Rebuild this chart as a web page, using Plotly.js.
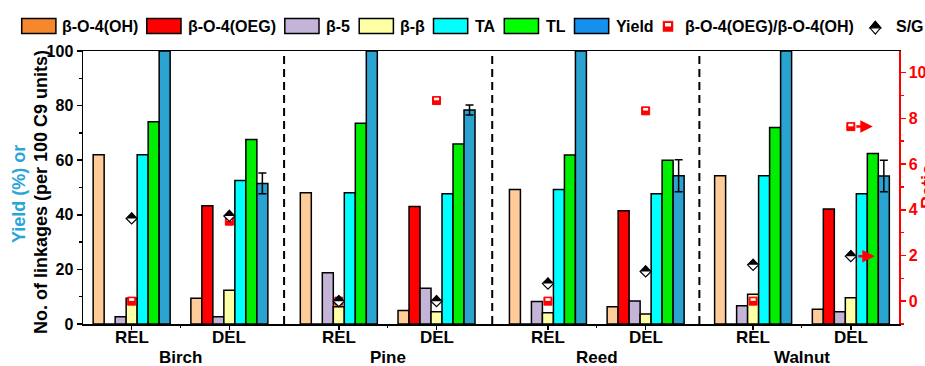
<!DOCTYPE html>
<html><head><meta charset="utf-8">
<script src="https://cdn.plot.ly/plotly-3.0.1.min.js"></script>
<style>html,body{margin:0;padding:0;background:#fff}#chart{width:925px;height:366px}</style>
</head><body><div id="chart"></div>
<script>
// ---------------- data ----------------
const species = ['Birch', 'Pine', 'Reed', 'Walnut'];
const tickLabels = ['REL', 'DEL', 'REL', 'DEL', 'REL', 'DEL', 'REL', 'DEL'];
const xPos = [1, 2, 3.12, 4.12, 5.26, 6.26, 7.36, 8.36];   // category positions (species groups separated by a small gap)
const seriesNames = ['β-O-4(OH)', 'β-O-4(OEG)', 'β-5', 'β-β', 'TA', 'TL', 'Yield'];
const bo4OH  = [62.0, 9.4, 48.1, 4.9, 49.3, 6.3, 54.3, 5.4];
const bo4OEG = [0, 43.3, 0, 43.0, 0, 41.5, 0, 42.1];
const b5     = [2.7, 2.7, 18.8, 13.1, 8.2, 8.4, 6.7, 4.5];
const bb     = [9.4, 12.4, 6.3, 4.5, 4.1, 3.7, 10.9, 9.6];
const TA     = [62.0, 52.6, 48.1, 47.7, 49.3, 47.7, 54.3, 47.7];
const TL     = [74.1, 67.6, 73.5, 65.9, 61.9, 60.0, 72.0, 62.5];
const yieldV = [100, 51.5, 100, 78.4, 100, 54.3, 100, 54.2];
const yieldErr = [null, 3.8, null, 1.8, null, 5.9, null, 5.8];
const ratioName = 'β-O-4(OEG)/β-O-4(OH)';
const ratio  = [0, 3.5, 0, 8.78, 0, 8.33, 0, 7.64];
const sgName = 'S/G';
const sg     = [3.62, 3.73, 0, 0, 0.77, 1.3, 1.59, 1.97];

// ---------------- style ----------------
const FONT = 'Liberation Sans, Arial, sans-serif';
const barColors    = ['#ffcc99', '#ff0000', '#c4b4d8', '#ffffa6', '#00ffff', '#00ee00', '#2aa3d0'];
const legendColors = ['#f5872c', '#ff0000', '#c4b4d8', '#ffffa6', '#00ffff', '#00ff00', '#1590ee'];
const seriesValues = [bo4OH, bo4OEG, b5, bb, TA, TL, yieldV];

// plot-area geometry in pixels (for paper-coordinate helpers)
const L = 83, R = 26, T = 51, B = 42, W = 925, H = 366;
const PW = W - L - R, PH = H - T - B;
const X_RANGE = [0.502, 8.853], Y2_RANGE = [-1, 10.95];
const pxX = p => (p - L) / PW;
const pxY = p => (H - B - p) / PH;

const traces = [];
seriesValues.forEach((vals, i) => {
  const t = {
    type: 'bar', name: seriesNames[i], x: xPos, y: vals, yaxis: 'y', xaxis: 'x',
    marker: {color: barColors[i], line: {color: '#000', width: 1.5}},
    showlegend: false, hoverinfo: 'skip'
  };
  if (seriesNames[i] === 'Yield') {
    t.error_y = {type: 'data', array: yieldErr.map(v => v == null ? NaN : v), visible: true,
                 color: '#000', thickness: 1.5, width: 4};
  }
  traces.push(t);
});

// half-filled square (ratio) and half-filled diamond (S/G) built from two marker layers
traces.push(
  {type: 'scatter', mode: 'markers', name: ratioName, x: xPos, y: ratio, xaxis: 'x', yaxis: 'y2', cliponaxis: false,
   hoverinfo: 'skip', showlegend: false,
   marker: {symbol: 'square', size: 8, color: '#ff0000', line: {color: '#ff0000', width: 1}}},
  {type: 'scatter', mode: 'markers', x: xPos, y: ratio, xaxis: 'x', yaxis: 'y2', cliponaxis: false,
   hoverinfo: 'skip', showlegend: false,
   marker: {symbol: 'line-ew', size: 3.6, angle: 180, standoff: 1.6, color: '#fff',
            line: {color: '#ffffff', width: 2.6}}},
  {type: 'scatter', mode: 'markers', name: sgName, x: xPos, y: sg, xaxis: 'x', yaxis: 'y2', cliponaxis: false,
   hoverinfo: 'skip', showlegend: false,
   marker: {symbol: 'diamond', size: 8.5, color: '#ffffff', line: {color: '#000', width: 1.2}}},
  {type: 'scatter', mode: 'markers', x: xPos, y: sg, xaxis: 'x', yaxis: 'y2', cliponaxis: false,
   hoverinfo: 'skip', showlegend: false,
   marker: {symbol: 'triangle-down', size: 8.6, angle: 180, standoff: 2.15, color: '#000',
            line: {color: '#000', width: 0}}}
);

// ---------------- shapes & annotations ----------------
const shapes = [];
const annotations = [];
// dashed separators between species
for (let s = 0; s < species.length - 1; s++) {
  const xm = (xPos[2 * s + 1] + xPos[2 * s + 2]) / 2;
  shapes.push({type: 'line', xref: 'x', yref: 'paper', x0: xm, x1: xm, y0: 0, y1: 1,
               line: {color: '#000', width: 2, dash: '8px,5px'}});
}
// REL / DEL labels
tickLabels.forEach((lb, i) => {
  annotations.push({xref: 'x', yref: 'paper', x: xPos[i], y: pxY(337.7), text: lb, showarrow: false,
    xanchor: 'center', yanchor: 'middle', font: {family: FONT, size: 17, color: '#000', weight: 'bold'}});
});
// species labels
species.forEach((sp, s) => {
  annotations.push({xref: 'x', yref: 'paper', x: (xPos[2 * s] + xPos[2 * s + 1]) / 2, y: pxY(357.5),
    text: sp, showarrow: false, xanchor: 'center', yanchor: 'middle',
    font: {family: FONT, size: 17, color: '#000', weight: 'bold'}});
});
// custom legend: bar swatches
const swatchX = [[21.7, 55.9], [146.8, 181], [284.8, 319], [359.2, 393.4], [433.5, 467.7], [504.3, 538.5], [574.5, 608.7]];
const textX = [63, 189.3, 327.3, 401, 476, 546.8, 617, 686, 897];
seriesNames.forEach((nm, i) => {
  shapes.push({type: 'rect', xref: 'paper', yref: 'paper', x0: pxX(swatchX[i][0]), x1: pxX(swatchX[i][1]),
    y0: pxY(33.5), y1: pxY(18.5), fillcolor: legendColors[i], line: {color: '#000', width: 1.5}});
});
// legend glyph: half-filled red square
shapes.push({type: 'rect', xref: 'paper', yref: 'paper', x0: pxX(663), x1: pxX(673), y0: pxY(31.5), y1: pxY(21.2),
  fillcolor: '#ff0000', line: {color: '#ff0000', width: 0.5}});
shapes.push({type: 'rect', xref: 'paper', yref: 'paper', x0: pxX(665), x1: pxX(671), y0: pxY(26.5), y1: pxY(23),
  fillcolor: '#ffffff', line: {width: 0}});
// legend glyph: half-filled diamond
const dc = [875.3, 27.8], dw = 5.4, dh = 6.3;
const P = (x, y) => pxX(x).toFixed(5) + ',' + pxY(y).toFixed(5);
shapes.push({type: 'path', xref: 'paper', yref: 'paper',
  path: 'M' + P(dc[0] - dw, dc[1]) + 'L' + P(dc[0], dc[1] - dh) + 'L' + P(dc[0] + dw, dc[1]) + 'L' + P(dc[0], dc[1] + dh) + 'Z',
  fillcolor: '#ffffff', line: {color: '#000', width: 1.2}});
shapes.push({type: 'path', xref: 'paper', yref: 'paper',
  path: 'M' + P(dc[0] - dw, dc[1]) + 'L' + P(dc[0], dc[1] - dh) + 'L' + P(dc[0] + dw, dc[1]) + 'Z',
  fillcolor: '#000000', line: {color: '#000', width: 1.2}});
[...seriesNames, ratioName, sgName].forEach((nm, i) => {
  annotations.push({xref: 'paper', yref: 'paper', x: pxX(textX[i] - 3), y: pxY(26), text: nm,
    showarrow: false, xanchor: 'left', yanchor: 'middle',
    font: {family: FONT, size: 16, color: '#000', weight: 'bold'}});
});
// axis titles
annotations.push({xref: 'paper', yref: 'paper', x: pxX(19), y: pxY(194), text: 'Yield (%) or',
  textangle: -90, showarrow: false, xanchor: 'center', yanchor: 'middle',
  font: {family: FONT, size: 18, color: '#2aa5d8', weight: 'bold'}});
annotations.push({xref: 'paper', yref: 'paper', x: pxX(41), y: pxY(192), text: 'No. of linkages (per 100 C9 units)',
  textangle: -90, showarrow: false, xanchor: 'center', yanchor: 'middle',
  font: {family: FONT, size: 18, color: '#000', weight: 'bold'}});
annotations.push({xref: 'paper', yref: 'paper', x: pxX(928), y: pxY(187), text: 'Ratio',
  textangle: -90, showarrow: false, xanchor: 'center', yanchor: 'middle',
  font: {family: FONT, size: 18, color: '#ff0000', weight: 'bold'}});
// arrows pointing at the right axis (Walnut DEL)
const last = xPos.length - 1;
[[ratio[last], 22], [sg[last], 24]].forEach(([yv, sh]) => {
  annotations.push({xref: 'x', yref: 'y2', x: xPos[last], y: yv, text: '', showarrow: true,
    ax: -18, ay: 0, xshift: sh, arrowhead: 2, arrowsize: 1, arrowwidth: 2.5, arrowcolor: '#ff0000', standoff: 0});
});

const tickFontBlack = {family: FONT, size: 16, color: '#000', weight: 'bold'};
const minorX = [];
for (let s = 0; s < species.length; s++) minorX.push((xPos[2 * s] + xPos[2 * s + 1]) / 2);
const layout = {
  width: W, height: H, margin: {l: L, r: R, t: T, b: B, pad: 0},
  paper_bgcolor: '#fff', plot_bgcolor: '#fff', showlegend: false,
  barmode: 'group', bargap: 0.212, bargroupgap: 0,
  xaxis: {range: X_RANGE, tickmode: 'array', tickvals: xPos, ticktext: tickLabels, showticklabels: false,
    ticks: 'outside', ticklen: 4, tickwidth: 1.5, tickcolor: '#000',
    minor: {tickmode: 'array', tickvals: minorX, ticks: 'outside', ticklen: 2, tickwidth: 1, tickcolor: '#000', showgrid: false},
    showline: true, linecolor: '#000', linewidth: 1.5, mirror: true,
    showgrid: false, zeroline: false, fixedrange: true},
  yaxis: {range: [0, 100], tickmode: 'linear', tick0: 0, dtick: 20,
    ticks: 'outside', ticklen: 5, tickwidth: 1.5, tickcolor: '#000',
    minor: {dtick: 10, ticks: 'outside', ticklen: 3, tickwidth: 1.5, tickcolor: '#000', showgrid: false},
    showline: true, linecolor: '#000', linewidth: 1.5, showgrid: false, zeroline: false,
    tickfont: tickFontBlack, fixedrange: true},
  yaxis2: {overlaying: 'y', side: 'right', anchor: 'x', range: Y2_RANGE, tickmode: 'linear', tick0: 0, dtick: 2,
    ticks: 'outside', ticklen: 5, tickwidth: 1.5, tickcolor: '#ff0000',
    minor: {dtick: 1, ticks: 'outside', ticklen: 3, tickwidth: 1.5, tickcolor: '#ff0000', showgrid: false},
    showline: true, linecolor: '#ff0000', linewidth: 1.5, showgrid: false, zeroline: false,
    tickfont: {family: FONT, size: 16, color: '#ff0000', weight: 'bold'}, fixedrange: true},
  shapes: shapes, annotations: annotations
};
Plotly.newPlot('chart', traces, layout, {displayModeBar: false, staticPlot: true});
</script></body></html>
